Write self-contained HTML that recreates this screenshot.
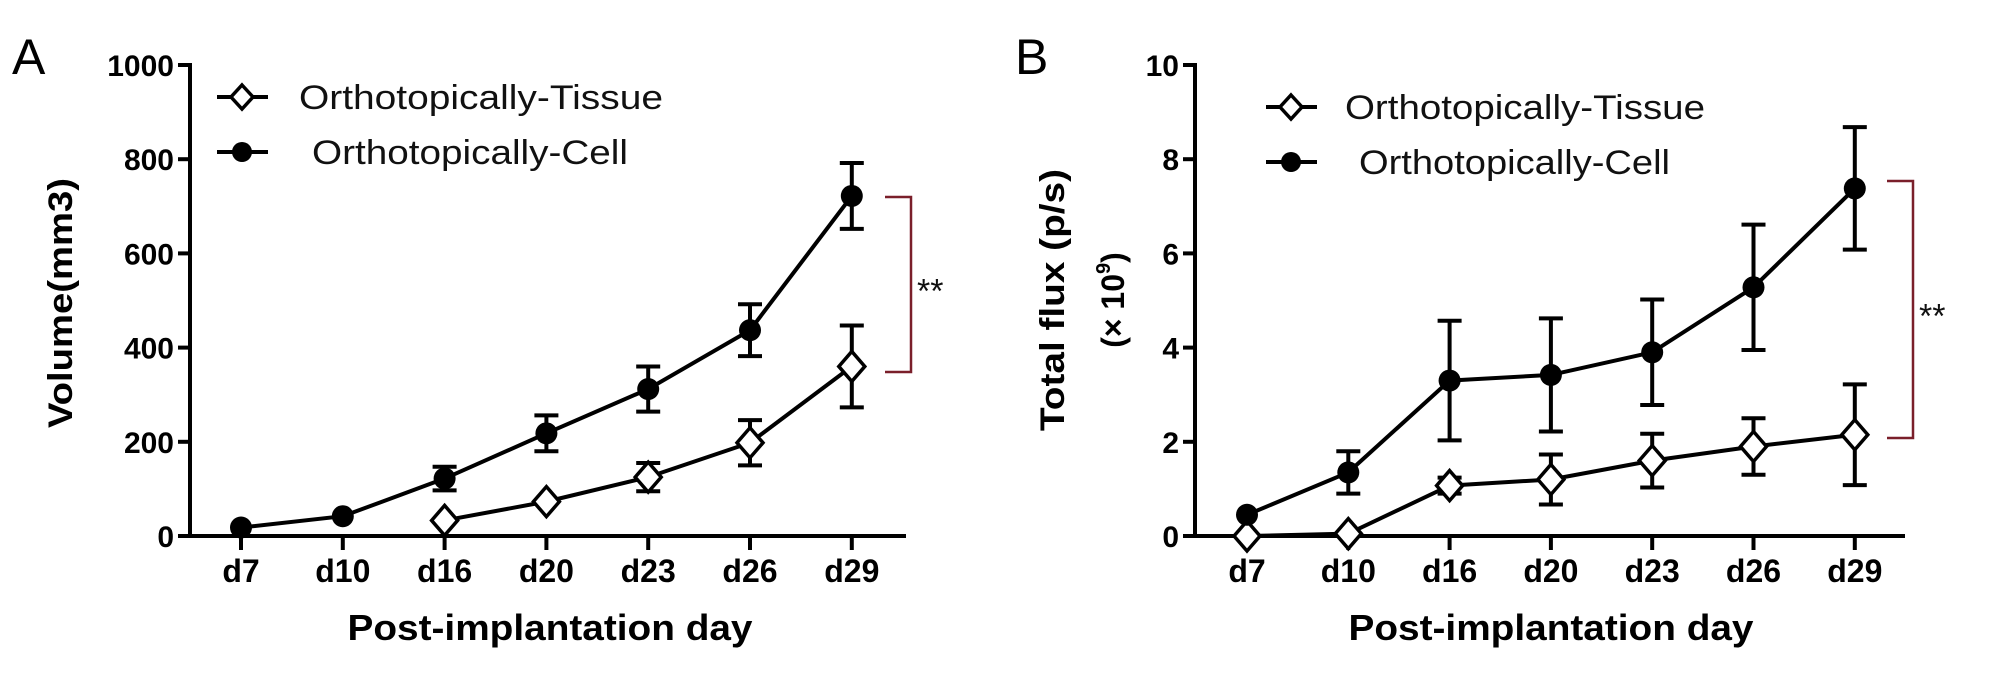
<!DOCTYPE html>
<html><head><meta charset="utf-8"><style>
html,body{margin:0;padding:0;background:#fff;}
svg{display:block;font-family:"Liberation Sans",Arial,sans-serif;}
</style></head><body>
<svg id="chart" width="2008" height="681" viewBox="0 0 2008 681" xmlns="http://www.w3.org/2000/svg"></svg>
<script>
const categories = ["d7","d10","d16","d20","d23","d26","d29"];
// Panel A: volume (mm3)
const aCellMean = [18, 42, 122, 218, 312, 437, 722];
const aCellErr  = [0, 0, 25, 38, 48, 55, 70];
const aTissueMean = [null, null, 33, 73, 125, 198, 360];
const aTissueErr  = [0, 0, 0, 0, 30, 48, 87];
const aTicks = [0, 200, 400, 600, 800, 1000];
// Panel B: total flux (x10^9 p/s)
const bCellMean = [0.45, 1.35, 3.3, 3.42, 3.9, 5.28, 7.38];
const bCellErr  = [0, 0.45, 1.27, 1.2, 1.12, 1.33, 1.3];
const bTissueMean = [0, 0.05, 1.07, 1.2, 1.6, 1.9, 2.15];
const bTissueErr  = [0, 0, 0.17, 0.53, 0.57, 0.6, 1.07];
const bTicks = [0, 2, 4, 6, 8, 10];

const NS = "http://www.w3.org/2000/svg";
const svg = document.getElementById("chart");
function mk(tag, attrs, parent) {
  const e = document.createElementNS(NS, tag);
  for (const k in attrs) e.setAttribute(k, attrs[k]);
  (parent || svg).appendChild(e);
  return e;
}

function panel(cfg) {
  const g = mk("g", {});
  
  
  const x0 = cfg.axisX, yBot = 536, yTop = 65, xEnd = cfg.xEnd;
  const yMax = cfg.ticks[cfg.ticks.length - 1];
  const ys = v => yBot - (v / yMax) * (yBot - yTop);
  const xs = i => cfg.firstX + i * cfg.step;

  // axes
  const ya = mk("path", {d:`M${x0-12},${yTop} H${x0} V${yBot} H${xEnd}`, fill:"none", stroke:"#000", "stroke-width":4}, g);
  
  
  cfg.ticks.forEach(t => {
    const y = ys(t);
    mk("line", {x1:x0-12, x2:x0, y1:y, y2:y, stroke:"#000", "stroke-width":4}, g);
    const tl = mk("text", {x:x0-16, y:y+11, "text-anchor":"end", "font-size":30, "font-weight":"bold"}, g);
    tl.textContent = t;
    
    
  });
  categories.forEach((c, i) => {
    const x = xs(i);
    mk("line", {x1:x, x2:x, y1:yBot, y2:yBot+14, stroke:"#000", "stroke-width":4}, g);
    const tl = mk("text", {x:x, y:582, "text-anchor":"middle", "font-size":32, "font-weight":"bold"}, g);
    tl.textContent = c;
    
    
  });

  // series
  function series(mean, err, kind, nm) {
    const sg = mk("g", {}, g);
    
    
    const pts = [];
    mean.forEach((v, i) => { if (v !== null) pts.push([xs(i), ys(v), i]); });
    mk("polyline", {points: pts.map(p => p[0]+","+p[1]).join(" "), fill:"none", stroke:"#000", "stroke-width":4}, sg);
    pts.forEach(([x, y, i]) => {
      const e = err[i];
      if (e > 0) {
        const yt = ys(mean[i] + e), yb = ys(mean[i] - e);
        const eb = mk("path", {d:`M${x},${yt} V${yb} M${x-12},${yt} H${x+12} M${x-12},${yb} H${x+12}`, stroke:"#000", "stroke-width":4, fill:"none"}, sg);
        
        
      }
      let m;
      if (kind === "circle") m = mk("circle", {cx:x, cy:y, r:11, fill:"#000"}, sg);
      else m = mk("path", {d:`M${x},${y-15} L${x+13},${y} L${x},${y+15} L${x-13},${y} Z`, fill:"#fff", stroke:"#000", "stroke-width":3.5}, sg);
      
      
    });
  }
  series(cfg.tissueMean, cfg.tissueErr, "diamond", "series-tissue");
  series(cfg.cellMean, cfg.cellErr, "circle", "series-cell");

  // legend
  function legendEntry(y, kind, label, mx, tx, tw) {
    const lg = mk("g", {}, g);
    
    
    mk("line", {x1:mx-25, x2:mx+26, y1:y, y2:y, stroke:"#000", "stroke-width":4}, lg);
    if (kind === "circle") mk("circle", {cx:mx, cy:y, r:10, fill:"#000"}, lg);
    else mk("path", {d:`M${mx},${y-12} L${mx+11},${y} L${mx},${y+12} L${mx-11},${y} Z`, fill:"#fff", stroke:"#000", "stroke-width":3.5}, lg);
    const t = mk("text", {x:tx, y:y+12, "font-size":34, textLength:tw, lengthAdjust:"spacingAndGlyphs", fill:"#111"}, lg);
    t.textContent = label;
  }
  legendEntry(cfg.legY1, "diamond", "Orthotopically-Tissue", cfg.legMX, cfg.legTX1, cfg.legTW1);
  legendEntry(cfg.legY2, "circle", "Orthotopically-Cell", cfg.legMX, cfg.legTX2, cfg.legTW2);

  // significance bracket
  const br = mk("path", {d:`M${cfg.brX1},${cfg.brY1} H${cfg.brX2} V${cfg.brY2} H${cfg.brX1}`, fill:"none", stroke:"#7a1f2a", "stroke-width":2.5}, g);
  
  
  const st = mk("text", {x:cfg.brX2+6, y:(cfg.brY1+cfg.brY2)/2+18, "font-size":34, fill:"#111"}, g);
  st.textContent = "**";
  
  

  // x title
  const xt = mk("text", {x:cfg.xTitleX, y:640, "text-anchor":"middle", "font-size":36, "font-weight":"bold", textLength:405, lengthAdjust:"spacingAndGlyphs"}, g);
  xt.textContent = "Post-implantation day";
  
  

  // panel letter
  const pl = mk("text", {x:cfg.letterX, y:74, "font-size":50}, g);
  pl.textContent = cfg.letter;
  
  
  return g;
}

panel({name:"panel-a-volume", axisX:190, xEnd:906, firstX:241, step:101.8, ticks:aTicks,
  cellMean:aCellMean, cellErr:aCellErr, tissueMean:aTissueMean, tissueErr:aTissueErr,
  legY1:97, legY2:152, legMX:242, legTX1:299, legTW1:364, legTX2:312, legTW2:316,
  brX1:885, brX2:911, brY1:197, brY2:372, xTitleX:550, letter:"A", letterX:12});
panel({name:"panel-b-flux", axisX:1195, xEnd:1905, firstX:1247, step:101.3, ticks:bTicks,
  cellMean:bCellMean, cellErr:bCellErr, tissueMean:bTissueMean, tissueErr:bTissueErr,
  legY1:107, legY2:162, legMX:1291, legTX1:1345, legTW1:360, legTX2:1359, legTW2:311,
  brX1:1887, brX2:1913, brY1:181, brY2:438, xTitleX:1551, letter:"B", letterX:1015});

// y-axis titles
const ytA = mk("text", {transform:"translate(72,303) rotate(-90)", "text-anchor":"middle", "font-size":34, "font-weight":"bold", textLength:250, lengthAdjust:"spacingAndGlyphs"});
ytA.textContent = "Volume(mm3)";


const ytB1 = mk("text", {transform:"translate(1064,300) rotate(-90)", "text-anchor":"middle", "font-size":34, "font-weight":"bold", textLength:262, lengthAdjust:"spacingAndGlyphs"});
ytB1.textContent = "Total flux (p/s)";


const ytB2 = mk("text", {transform:"translate(1124,300) rotate(-90)", "text-anchor":"middle", "font-size":32, "font-weight":"bold"});


ytB2.innerHTML = '(× 10<tspan dy="-14" font-size="20">9</tspan><tspan dy="14">)</tspan>';
</script>
</body></html>
